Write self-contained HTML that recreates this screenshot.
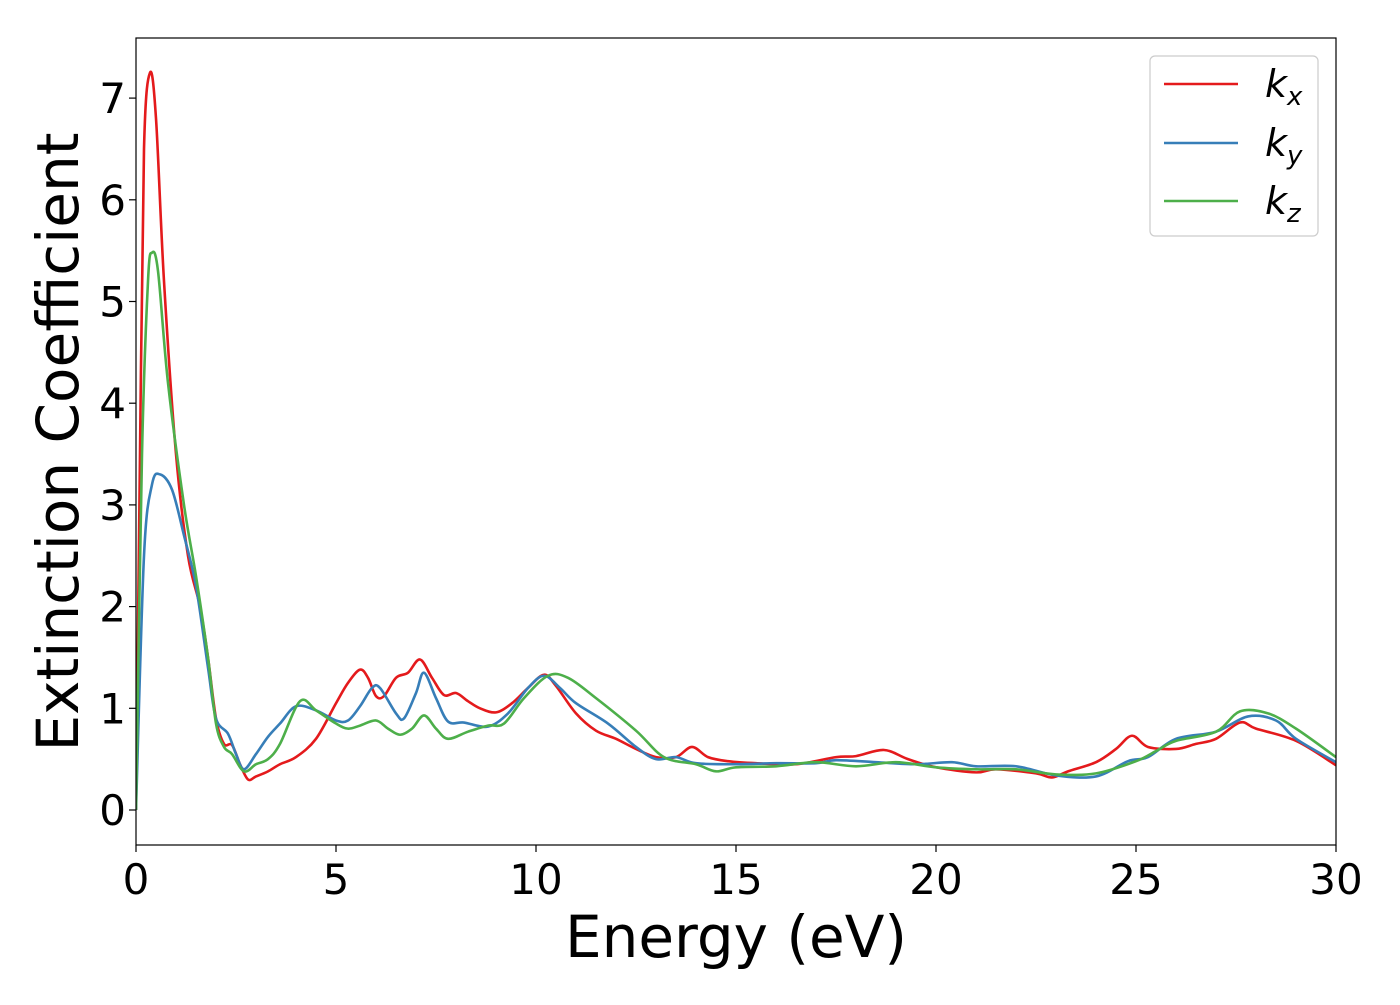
<!DOCTYPE html>
<html><head><meta charset="utf-8"><style>
body{margin:0;background:#fff}
svg text{font-family:"DejaVu Sans","Liberation Sans",sans-serif;fill:#000}
</style></head><body>
<svg width="1400" height="1000" xmlns="http://www.w3.org/2000/svg">
<g id="plot"></g>
</svg>
<script>
const xTicks=[0,5,10,15,20,25,30];
const yTicks=[0,1,2,3,4,5,6,7];
const kxE=[0,0.1,0.2,0.35,0.5,0.7,1.0,1.3,1.6,1.8,2.0,2.2,2.4,2.6,2.8,3.0,3.3,3.6,4.0,4.5,5.0,5.3,5.6,5.8,6.0,6.2,6.5,6.8,7.1,7.4,7.7,8.0,8.3,8.6,9.0,9.4,9.8,10.2,10.5,11.0,11.5,12,12.5,13,13.5,13.9,14.3,14.8,15.5,16.5,17.5,18,18.7,19.3,20,21,21.5,22.5,22.9,23.3,24,24.5,24.9,25.3,26,26.5,27,27.6,28,29,30];
const kxV=[0,3.5,6.5,7.25,6.8,5.2,3.5,2.5,2.0,1.5,0.9,0.65,0.64,0.45,0.3,0.33,0.38,0.45,0.52,0.7,1.05,1.25,1.38,1.3,1.12,1.12,1.3,1.35,1.48,1.3,1.13,1.15,1.07,1.0,0.96,1.05,1.2,1.33,1.22,0.95,0.78,0.7,0.6,0.52,0.52,0.62,0.52,0.48,0.46,0.45,0.52,0.53,0.59,0.5,0.42,0.37,0.4,0.36,0.32,0.38,0.47,0.6,0.73,0.62,0.6,0.65,0.7,0.86,0.8,0.68,0.44];
const kyE=[0,0.2,0.4,0.6,0.9,1.2,1.5,1.8,2.0,2.3,2.5,2.7,3.0,3.3,3.6,4.0,4.5,5.0,5.3,5.6,5.9,6.1,6.5,6.7,7.0,7.2,7.5,7.8,8.2,8.8,9.3,9.8,10.2,10.6,11.0,11.8,12.5,13,13.5,14,15,16,17,17.5,18.5,19.5,20.4,21,22,23,24,24.8,25.3,26,27,27.8,28.5,29,30];
const kyV=[0,2.5,3.2,3.3,3.15,2.7,2.2,1.4,0.9,0.75,0.55,0.4,0.55,0.72,0.85,1.02,0.98,0.88,0.88,1.02,1.2,1.2,0.95,0.9,1.15,1.35,1.1,0.87,0.86,0.82,0.95,1.2,1.32,1.2,1.05,0.85,0.62,0.5,0.52,0.46,0.45,0.46,0.46,0.49,0.47,0.45,0.47,0.43,0.43,0.34,0.33,0.48,0.52,0.7,0.77,0.92,0.88,0.7,0.47];
const kzE=[0,0.15,0.3,0.4,0.55,0.8,1.2,1.5,1.8,2.0,2.2,2.4,2.7,3.0,3.3,3.6,4.1,4.5,5.0,5.3,5.6,6.0,6.3,6.6,6.9,7.2,7.5,7.8,8.3,8.8,9.2,9.7,10.3,10.8,11.5,12.5,13.2,14,14.5,15,16,17,18,19,20,21,22,23,24,25,25.5,26,27,27.6,28.3,29,30];
const kzV=[0,3.5,5.2,5.48,5.3,4.2,3.0,2.3,1.5,0.85,0.62,0.55,0.38,0.45,0.5,0.65,1.07,0.98,0.85,0.8,0.83,0.88,0.8,0.74,0.8,0.93,0.8,0.7,0.77,0.83,0.85,1.1,1.32,1.3,1.1,0.78,0.52,0.45,0.38,0.42,0.43,0.47,0.43,0.47,0.42,0.4,0.4,0.35,0.36,0.48,0.58,0.68,0.77,0.97,0.95,0.8,0.52];

const L=136,R=1336,T=38,B=845;
const xS=v=>L+v*(R-L)/30;
const yS=v=>810-v*101.7;
const NS="http://www.w3.org/2000/svg";
const g=document.getElementById('plot');
function mk(t,a){const e=document.createElementNS(NS,t);for(const k in a)e.setAttribute(k,a[k]);g.appendChild(e);return e;}
function smooth(xs,ys){
  const p=xs.map((x,i)=>[xS(x),yS(ys[i])]);
  let d=`M${p[0][0]},${p[0][1]}`;
  for(let i=0;i<p.length-1;i++){
    const p0=p[i-1]||p[i],p1=p[i],p2=p[i+1],p3=p[i+2]||p2;
    const c1=[p1[0]+(p2[0]-p0[0])/6,p1[1]+(p2[1]-p0[1])/6];
    const c2=[p2[0]-(p3[0]-p1[0])/6,p2[1]-(p3[1]-p1[1])/6];
    d+=` C${c1[0]},${c1[1]} ${c2[0]},${c2[1]} ${p2[0]},${p2[1]}`;
  }
  return d;
}
const clip=mk('clipPath',{id:'c'});
const cr=document.createElementNS(NS,'rect');cr.setAttribute('x',L);cr.setAttribute('y',T);cr.setAttribute('width',R-L);cr.setAttribute('height',B-T);clip.appendChild(cr);
const series=[[kxE,kxV,'#e41a1c','kx-line'],[kyE,kyV,'#377eb8','ky-line'],[kzE,kzV,'#4daf4a','kz-line']];
series.forEach(s=>{
  const p=mk('path',{d:smooth(s[0],s[1]),fill:'none',stroke:s[2],'stroke-width':2.6,'clip-path':'url(#c)'});
  
  
});
const fr=mk('rect',{x:L,y:T,width:R-L,height:B-T,fill:'none',stroke:'#000','stroke-width':1.2});


xTicks.forEach(v=>{
  mk('line',{x1:xS(v),x2:xS(v),y1:B,y2:B+7,stroke:'#000','stroke-width':1.2});
  const t=mk('text',{x:xS(v),y:894,'font-size':42,'text-anchor':'middle'});t.textContent=v;
  
  
});
yTicks.forEach(v=>{
  mk('line',{x1:L-7,x2:L,y1:yS(v),y2:yS(v),stroke:'#000','stroke-width':1.2});
  const t=mk('text',{x:126,y:yS(v)+15,'font-size':42,'text-anchor':'end'});t.textContent=v;
  
  
});
const xt=mk('text',{x:736,y:957,'font-size':58,'text-anchor':'middle'});xt.textContent='Energy (eV)';


const yt=mk('text',{x:0,y:0,'font-size':58,'text-anchor':'middle',transform:'translate(78,442) rotate(-90)'});yt.textContent='Extinction Coefficient';


const lb=mk('rect',{x:1150,y:56,width:168,height:180,rx:5,fill:'#fff',stroke:'#ccc','stroke-width':1.2});


const labs=[['x',84],['y',143],['z',201]];
labs.forEach((l,i)=>{
  mk('line',{x1:1164,x2:1238,y1:l[1],y2:l[1],stroke:series[i][2],'stroke-width':2.6});
  const t=mk('text',{x:1265,y:l[1]+13,'font-size':38,'font-style':'italic'});
  t.innerHTML='k<tspan font-size="26" dy="8">'+l[0]+'</tspan>';
  
  
});
</script>
</body></html>
